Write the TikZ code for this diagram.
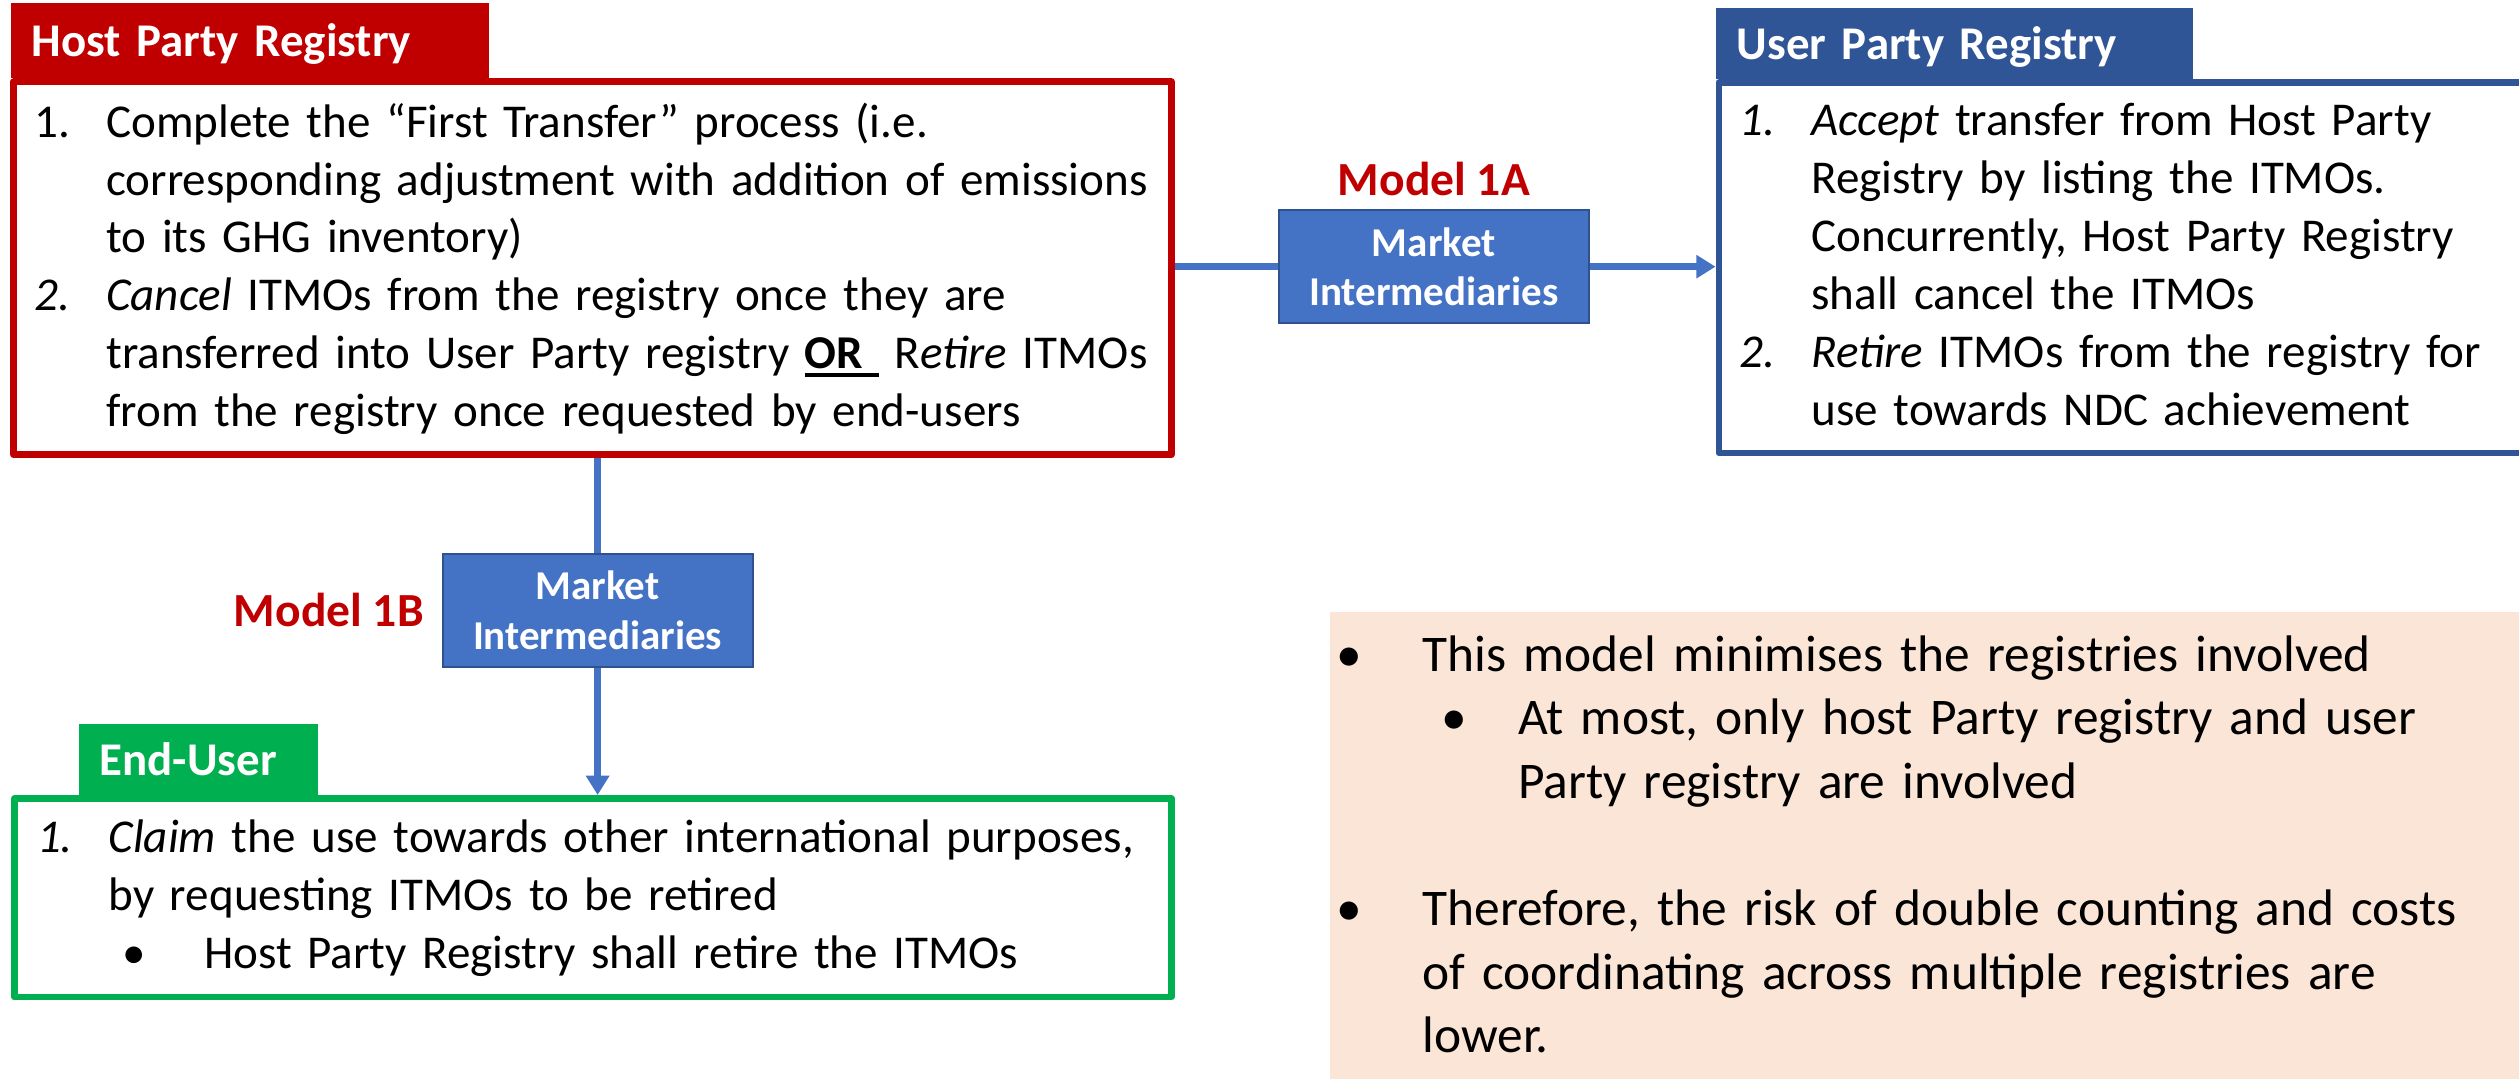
\documentclass[tikz,border=0pt]{standalone}
\usepackage{fontspec}
\setmainfont{Carlito}
\usepackage{tikz}
\definecolor{hostred}{HTML}{C00000}
\definecolor{userblue}{HTML}{2F5597}
\definecolor{endgreen}{HTML}{00B050}
\definecolor{mifill}{HTML}{4472C4}
\definecolor{miborder}{HTML}{2F528F}
\definecolor{notefill}{HTML}{FBE5D6}
\usetikzlibrary{arrows.meta, calc, positioning}

\newlength{\hangw}
\setlength{\hangw}{44.5pt}
\newcommand{\numl}[1]{\makebox[\hangw][l]{#1}}
\newcommand{\cont}{\hspace*{\hangw}}
\newcommand{\bul}[1]{\makebox[#1][l]{\hspace*{-9pt}•}}
\newcommand{\thickul}[1]{\setbox0\hbox{#1}\rlap{\rule[-5pt]{\wd0}{2pt}}\box0}

\begin{document}
\begin{tikzpicture}[x=1pt, y=-1pt]

  \tikzstyle{regbox} = [%
  draw,
  inner sep=0pt,
  line join=round,
  line width=4.3pt,
  rectangle,
  ];

  \tikzstyle{regtitle} = [%
  align=left,
  font=\fontsize{29.2}{36}\selectfont\bfseries,
  inner xsep=13pt,
  inner ysep=0pt,
  rectangle,
  text=white,
  text depth=0pt,
  text height=20pt,
  ];

  \tikzstyle{mibox} = [%
  align=center,
  draw=miborder,
  fill=mifill,
  font=\fontsize{25.5}{31}\selectfont\bfseries,
  inner sep=0pt,
  line width=1.2pt,
  minimum height=70pt,
  minimum width=193pt,
  rectangle,
  text=white,
  ];

  \tikzstyle{modellabel} = [%
  font=\fontsize{29.6}{36}\selectfont\bfseries,
  inner sep=0pt,
  text=hostred,
  ];

  \tikzstyle{bodytext} = [%
  align=left,
  anchor=base west,
  font=\fontsize{29.3}{36}\selectfont,
  inner sep=0pt,
  text width=800pt,
  ];

  \tikzstyle{link} = [%
  draw=mifill,
  line width=4.2pt,
  ];

  \useasboundingbox (0,0) rectangle (1568,671.6);

  % registry boxes
  \node[regbox, draw=hostred, minimum width=720.4pt, minimum height=232pt]
    (hostbox) at (368.8,167) {};
  \node[regbox, draw=userblue, minimum width=560pt, minimum height=230.5pt]
    (userbox) at (1350,166.75) {};
  \node[regbox, draw=endgreen, minimum width=720pt, minimum height=123.6pt]
    (endbox) at (369,558.8) {};
  \node[fill=notefill, minimum width=772pt, minimum height=319pt]
    (note) at (1214,540.5) {};

  % tabs
  \node[regtitle, fill=hostred, text width=272pt, minimum height=47pt,
    above right=0pt of hostbox.north west] (hosttitle) {Host Party Registry};
  \node[regtitle, fill=userblue, text width=271pt, minimum height=44pt,
    above right=0pt of userbox.north west] (usertitle) {User Party Registry};
  \node[regtitle, fill=endgreen, text width=123pt, minimum height=44pt,
    above right=0pt and 42pt of endbox.north west] (endtitle) {End-User};

  % intermediaries
  \node[mibox] (mi1) at (892.5,166) {Market\\Intermediaries};
  \node[mibox] (mi2) at (372,380) {Market\\Intermediaries};
  \node[modellabel, above=8pt of mi1] (model1a) {Model 1A};
  \node[modellabel, left=11pt of mi2] (model1b) {Model 1B};

  \draw[link] (hostbox.east |- mi1.west) -- (mi1.west);
  \draw[link, -{Triangle[length=12pt, width=14pt]}]
    (mi1.east) -- (mi1.east -| userbox.west);
  \draw[link] (hostbox.south -| mi2.north) -- (mi2.north);
  \draw[link, -{Triangle[length=12pt, width=14pt]}]
    (mi2.south) -- (mi2.south |- endbox.north);

  % texts
  \node[bodytext] (hosttext) at ($(hostbox.north west)+(15,36.6)$) {%
    \numl{1.}Complete the “First Transfer” process (i.e.\\
    \cont corresponding adjustment with addition of emissions\\
    \cont to its GHG inventory)\\
    \numl{\textit{2.}}\textit{Cancel} ITMOs from the registry once they are\\
    \cont transferred into User Party registry \thickul{\textbf{OR}\ }\ R\textit{etire} ITMOs\\
    \cont from the registry once requested by end-users};

  \node[bodytext] (usertext) at ($(userbox.north west)+(15,35.3)$) {%
    \numl{\textit{1.}}\textit{Accept} transfer from Host Party\\
    \cont Registry by listing the ITMOs.\\
    \cont Concurrently, Host Party Registry\\
    \cont shall cancel the ITMOs\\
    \numl{\textit{2.}}\textit{Retire} ITMOs from the registry for\\
    \cont use towards NDC achievement};

  \node[bodytext] (endtext) at ($(endbox.north west)+(16,36)$) {%
    \numl{\textit{1.}}\textit{Claim} the use towards other international purposes,\\
    \cont by requesting ITMOs to be retired\\
    \hspace*{62pt}\bul{42pt}Host Party Registry shall retire the ITMOs};

  \node[bodytext, font=\fontsize{32}{39.6}\selectfont]
    (notetext) at ($(note.north west)+(13,37)$) {%
    \bul{44.5pt}This model minimises the registries involved\\
    \hspace*{65pt}\bul{39pt}At most, only host Party registry and user\\
    \hspace*{104pt}Party registry are involved\\
    \mbox{}\\
    \bul{44.5pt}Therefore, the risk of double counting and costs\\
    \hspace*{44.5pt}of coordinating across multiple registries are\\
    \hspace*{44.5pt}lower.};

\end{tikzpicture}
\end{document}
